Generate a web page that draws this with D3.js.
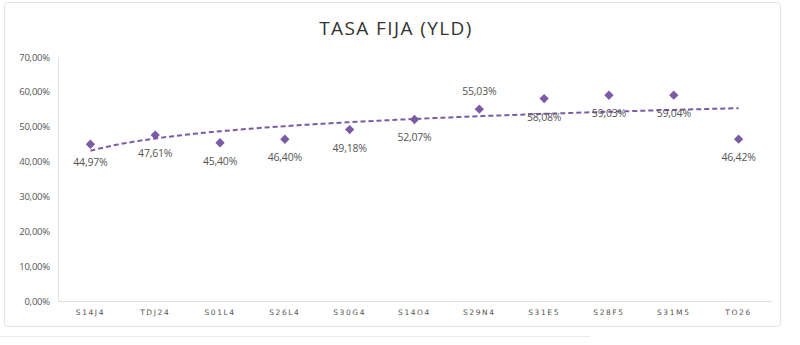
<!DOCTYPE html>
<html>
<head>
<meta charset="utf-8">
<script src="https://cdn.jsdelivr.net/npm/d3@7"></script>
<style>
  html, body { margin: 0; padding: 0; background: #ffffff; }
  svg { display: block; }
</style>
</head>
<body>
<svg id="chart" width="800" height="345"></svg>
<script>
// Bond tickers and their fixed-rate yields (%)
const categories = ["S14J4", "TDJ24", "S01L4", "S26L4", "S30G4", "S14O4", "S29N4", "S31E5", "S28F5", "S31M5", "TO26"];
const yields = [44.97, 47.61, 45.40, 46.40, 49.18, 52.07, 55.03, 58.08, 59.03, 59.04, 46.42];
// Labels drawn above the marker instead of below
const labelsAbove = ["S29N4"];
const yTicks = [0, 10, 20, 30, 40, 50, 60, 70];

const svg = d3.select("#chart");
const purple = "#7a5ca6";
const textGray = "#555555";

// outer frame
svg.append("rect")
  .attr("x", 4.5).attr("y", 2.5).attr("width", 776).attr("height", 324)
  .attr("rx", 3)
  .attr("fill", "none").attr("stroke", "#e3e3e3").attr("stroke-width", 1);
svg.append("line")
  .attr("x1", 0).attr("x2", 590).attr("y1", 336.5).attr("y2", 336.5)
  .attr("stroke", "#ececec").attr("stroke-width", 1);

// title
svg.append("text")
  .attr("x", 396).attr("y", 35)
  .attr("text-anchor", "middle")
  .attr("font-family", "'Open Sans', sans-serif")
  .attr("font-size", 19)
  .attr("font-weight", 500)
  .attr("letter-spacing", "1.4px")
  .attr("fill", "#333333")
  .text("TASA FIJA (YLD)");

const plot = { left: 58, right: 771, top: 57, bottom: 301 };

const x = d3.scaleBand().domain(categories).range([plot.left, plot.right]);
const y = d3.scaleLinear().domain([0, 70]).range([plot.bottom, plot.top]);
const cx = d => x(d) + x.bandwidth() / 2;

const fmt = v => d3.format(".2f")(v).replace(".", ",") + "%";

// y axis
const yAxis = d3.axisLeft(y).tickValues(yTicks).tickSize(0).tickPadding(8)
  .tickFormat(fmt);
const gy = svg.append("g").attr("transform", `translate(${plot.left},0)`).call(yAxis);
gy.select(".domain").attr("stroke", "#e2e2e2");
gy.selectAll("text")
  .attr("font-family", "'Open Sans', sans-serif")
  .attr("font-size", 9.5)
  .attr("letter-spacing", "-0.2px")
  .attr("fill", textGray);

// x axis
const xAxis = d3.axisBottom(x).tickSize(0).tickPadding(9);
const gx = svg.append("g").attr("transform", `translate(0,${plot.bottom})`).call(xAxis);
gx.select(".domain").attr("stroke", "#dedede");
gx.selectAll("text")
  .attr("font-family", "'DejaVu Sans', sans-serif")
  .attr("font-size", 7.5)
  .attr("letter-spacing", "1.6px")
  .attr("fill", textGray);

// logarithmic trend line: y = a + b*ln(i), i = 1..n
const lnx = yields.map((_, i) => Math.log(i + 1));
const mx = d3.mean(lnx), my = d3.mean(yields);
const b = d3.sum(lnx, (l, i) => (l - mx) * (yields[i] - my)) / d3.sum(lnx, l => (l - mx) * (l - mx));
const a = my - b * mx;
const trend = [];
for (let t = 1; t <= categories.length; t += 0.1) {
  trend.push({ t, v: a + b * Math.log(t) });
}
const xT = d3.scaleLinear().domain([1, categories.length])
  .range([cx(categories[0]), cx(categories[categories.length - 1])]);
svg.append("path")
  .datum(trend)
  .attr("d", d3.line().x(d => xT(d.t)).y(d => y(d.v)).curve(d3.curveBasis))
  .attr("fill", "none")
  .attr("stroke", purple)
  .attr("stroke-width", 2)
  .attr("stroke-dasharray", "5,3");

// diamond markers
const diamond = d3.symbol().type(d3.symbolDiamond2).size(55);
svg.append("g").selectAll("path")
  .data(categories)
  .join("path")
  .attr("d", diamond)
  .attr("transform", (c, i) => `translate(${cx(c)},${y(yields[i])})`)
  .attr("fill", purple);

// value labels
svg.append("g").selectAll("text")
  .data(categories)
  .join("text")
  .attr("x", c => cx(c))
  .attr("y", (c, i) => y(yields[i]) + (labelsAbove.includes(c) ? -14 : 22))
  .attr("text-anchor", "middle")
  .attr("font-family", "'Open Sans', sans-serif")
  .attr("font-size", 10.5)
  .attr("letter-spacing", "-0.2px")
  .attr("fill", textGray)
  .text((c, i) => fmt(yields[i]));
</script>
</body>
</html>
